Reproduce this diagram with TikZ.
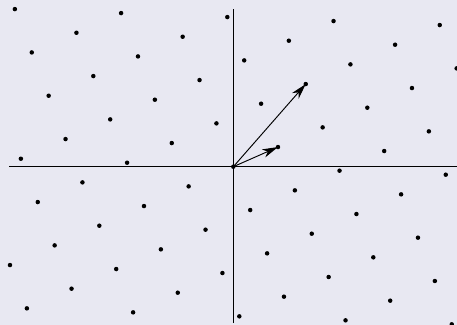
\documentclass[tikz,border=0pt]{standalone}
\usepackage{xcolor}
\definecolor{backdrop}{RGB}{232,232,242}
\usetikzlibrary{arrows.meta}

\begin{document}
\begin{tikzpicture}[
  lattice dot/.style={fill=black},
  axis line/.style={line width=0.65pt},
  basis/.style={-{Stealth[length=10pt,width=5.5pt,inset=3pt]}, line width=0.6pt}
]
  % cadre et fond
  \useasboundingbox (-5.208,-3.533) rectangle (4.993,3.721);
  \fill[backdrop] (-5.208,-3.533) rectangle (4.993,3.721);

  % axes
  \draw[axis line] (-5.007,0) -- (5.1,0);
  \draw[axis line] (0,-3.49) -- (0,3.52);

  % points du reseau (m a + n b dans le rectangle)
  \foreach \m in {-16,...,16}
    \foreach \n in {-6,...,6} {
      \pgfmathsetmacro\px{0.997*\m+1.617*\n}
      \pgfmathsetmacro\py{0.439*\m+1.845*\n}
      \pgfmathtruncatemacro\inside{(abs(\px)<5.02 && abs(\py)<3.53) ? 1 : 0}
      \ifnum\inside=1
        \fill[lattice dot] (\px,\py) circle (0.05);
      \fi
    }

  % vecteurs de base
  \coordinate (O) at (0,0);
  \coordinate (e1) at (0.997,0.439);
  \coordinate (e2) at (1.617,1.845);
  \draw[basis] (O) -- (e1);
  \draw[basis] (O) -- (e2);
\end{tikzpicture}
\end{document}
